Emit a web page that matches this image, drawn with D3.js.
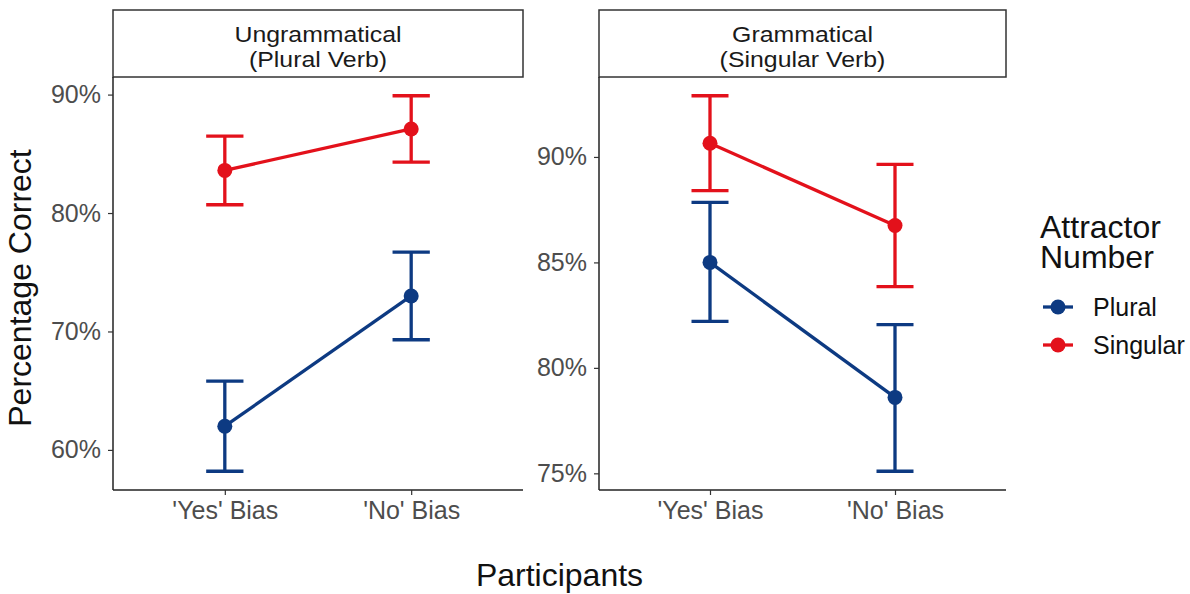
<!DOCTYPE html>
<html>
<head>
<meta charset="utf-8">
<script src="https://cdn.jsdelivr.net/npm/d3@7"></script>
<style>
  body { margin: 0; background: #fff; }
  svg text { font-family: "Liberation Sans", Arial, sans-serif; }
</style>
</head>
<body>
<script>
// data
const facetTitles = [["Ungrammatical", "(Plural Verb)"], ["Grammatical", "(Singular Verb)"]];
const biasLabels = ["'Yes' Bias", "'No' Bias"];
const seriesNames = ["Plural", "Singular"];

const ungramPluralMean = [62.0, 73.0];
const ungramPluralLo = [58.2, 69.3];
const ungramPluralHi = [65.8, 76.7];
const ungramSingularMean = [83.6, 87.1];
const ungramSingularLo = [80.7, 84.3];
const ungramSingularHi = [86.5, 89.9];

const gramPluralMean = [85.0, 78.6];
const gramPluralLo = [82.2, 75.1];
const gramPluralHi = [87.85, 82.05];
const gramSingularMean = [90.65, 86.75];
const gramSingularLo = [88.4, 83.85];
const gramSingularHi = [92.9, 89.65];

const leftTicks = [60, 70, 80, 90];
const rightTicks = [75, 80, 85, 90];

const colors = {Plural: "#0d3a82", Singular: "#e3111b"};

const W = 1190, H = 594;
const panelTop = 77, panelBottom = 490;
const tickFont = 25, titleFont = 32, stripFont = 22;

const panels = [
  {x0: 113, x1: 523, title: facetTitles[0], ticks: leftTicks,
   series: [
     {name: "Plural", mean: ungramPluralMean, lo: ungramPluralLo, hi: ungramPluralHi},
     {name: "Singular", mean: ungramSingularMean, lo: ungramSingularLo, hi: ungramSingularHi}
   ]},
  {x0: 599, x1: 1006, title: facetTitles[1], ticks: rightTicks,
   series: [
     {name: "Plural", mean: gramPluralMean, lo: gramPluralLo, hi: gramPluralHi},
     {name: "Singular", mean: gramSingularMean, lo: gramSingularLo, hi: gramSingularHi}
   ]}
];

const svg = d3.select("body").append("svg")
  .attr("width", W)
  .attr("height", H);

panels.forEach(function(p) {
  const allVals = [];
  p.series.forEach(s => { allVals.push(...s.lo, ...s.hi); });
  const mn = d3.min(allVals), mx = d3.max(allVals);
  const pad = (mx - mn) * 0.05;

  const y = d3.scaleLinear().domain([mn - pad, mx + pad]).range([panelBottom, panelTop]);
  const x = d3.scalePoint().domain(biasLabels).range([p.x0, p.x1]).padding(0.6);

  // strip (the original font is a bit wider, so stretch it a touch)
  svg.append("rect")
    .attr("x", p.x0).attr("y", 10)
    .attr("width", p.x1 - p.x0).attr("height", panelTop - 10)
    .attr("fill", "#fff").attr("stroke", "#333").attr("stroke-width", 1.5);
  [42, 67].forEach(function(by, i) {
    svg.append("text")
      .attr("transform", "translate(" + ((p.x0 + p.x1) / 2) + "," + by + ") scale(1.13,1)")
      .attr("text-anchor", "middle").attr("font-size", stripFont).attr("fill", "#1a1a1a")
      .text(p.title[i]);
  });

  // axes
  const yAxis = d3.axisLeft(y).tickValues(p.ticks).tickSize(5).tickPadding(7).tickFormat(d => d + "%");
  const gy = svg.append("g").attr("transform", "translate(" + p.x0 + ",0)").call(yAxis);
  gy.select(".domain").attr("d", "M0," + panelTop + "V" + panelBottom).attr("stroke", "#222").attr("stroke-width", 1.5);
  gy.selectAll(".tick line").attr("stroke", "#333").attr("stroke-width", 1.2);
  gy.selectAll(".tick text").attr("font-size", tickFont).attr("fill", "#4d4d4d")
    .attr("font-family", "Liberation Sans, Arial, sans-serif");

  const xAxis = d3.axisBottom(x).tickSize(5).tickPadding(6);
  const gx = svg.append("g").attr("transform", "translate(0," + panelBottom + ")").call(xAxis);
  gx.select(".domain").attr("d", "M" + p.x0 + ",0H" + p.x1).attr("stroke", "#222").attr("stroke-width", 1.5);
  gx.selectAll(".tick line").attr("stroke", "#333").attr("stroke-width", 1.2);
  gx.selectAll(".tick text").attr("font-size", tickFont).attr("fill", "#4d4d4d")
    .attr("font-family", "Liberation Sans, Arial, sans-serif");

  const capW = x.step() * 0.1;

  p.series.forEach(function(s) {
    const c = colors[s.name];
    const g = svg.append("g");
    const pts = biasLabels.map((b, i) => ({b: b, m: s.mean[i], lo: s.lo[i], hi: s.hi[i]}));

    g.selectAll(".eb").data(pts).enter().append("path")
      .attr("d", d => "M" + (x(d.b) - capW) + "," + y(d.hi) + "H" + (x(d.b) + capW) +
                      "M" + x(d.b) + "," + y(d.hi) + "V" + y(d.lo) +
                      "M" + (x(d.b) - capW) + "," + y(d.lo) + "H" + (x(d.b) + capW))
      .attr("fill", "none").attr("stroke", c).attr("stroke-width", 3.3);

    g.append("path").datum(pts)
      .attr("d", d3.line().x(d => x(d.b)).y(d => y(d.m)))
      .attr("fill", "none").attr("stroke", c).attr("stroke-width", 3.3);

    g.selectAll("circle").data(pts).enter().append("circle")
      .attr("cx", d => x(d.b)).attr("cy", d => y(d.m)).attr("r", 7.5)
      .attr("fill", c);
  });
});

// axis titles
svg.append("text")
  .attr("transform", "translate(31,288) rotate(-90)")
  .attr("text-anchor", "middle").attr("font-size", titleFont).attr("fill", "#111")
  .text("Percentage Correct");

svg.append("text")
  .attr("x", (113 + 1006) / 2).attr("y", 586)
  .attr("text-anchor", "middle").attr("font-size", titleFont).attr("fill", "#111")
  .text("Participants");

// legend
svg.append("text").attr("x", 1040).attr("y", 238).attr("font-size", titleFont).attr("fill", "#111").text("Attractor");
svg.append("text").attr("x", 1040).attr("y", 268).attr("font-size", titleFont).attr("fill", "#111").text("Number");

const keyY = d3.scalePoint().domain(seriesNames).range([307, 345]);
const keys = svg.append("g").selectAll("g").data(seriesNames).enter().append("g");
keys.append("line")
  .attr("x1", 1043).attr("x2", 1073)
  .attr("y1", d => keyY(d)).attr("y2", d => keyY(d))
  .attr("stroke", d => colors[d]).attr("stroke-width", 3.3);
keys.append("circle")
  .attr("cx", 1058).attr("cy", d => keyY(d)).attr("r", 7.5)
  .attr("fill", d => colors[d]);
keys.append("text")
  .attr("x", 1093).attr("y", d => keyY(d) + 9)
  .attr("font-size", tickFont).attr("fill", "#111")
  .text(d => d);
</script>
</body>
</html>
